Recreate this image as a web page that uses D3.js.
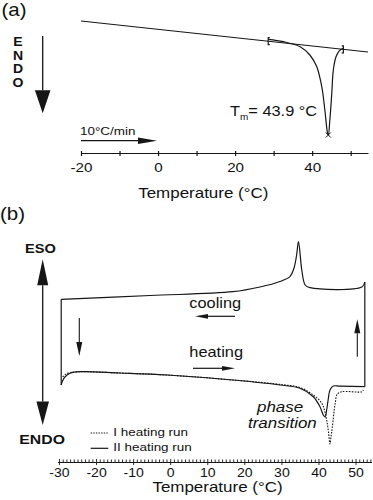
<!DOCTYPE html>
<html>
<head>
<meta charset="utf-8">
<script src="https://cdn.jsdelivr.net/npm/d3@7"></script>
<style>
body { margin: 0; background: #fff; }
text { font-family: "Liberation Sans", Arial, sans-serif; fill: #111; }
</style>
</head>
<body>
<div id="chart"></div>
<script>
// panel (a): one heating run, 10 C/min, heat flow in arbitrary units
var tempBase = [-20, 54.5];
var flowBase = [0, -3.1];
var tempPeak = [28.6, 32.5, 36.9, 39.4, 41.2, 42.5, 43.3, 44.0, 44.2, 44.6, 45.1, 45.5, 46.2, 47.1, 48.1];
var flowPeak = [-1.83, -2.07, -2.57, -3.4, -4.57, -6.57, -8.9, -11.23, -11.4, -9.9, -7.23, -4.9, -3.57, -2.97, -2.73];
var tempLimits = [28.6, 48.1];
var tempTm = 44.2, flowTm = -11.4;
var ticksA = [-20, -10, 0, 10, 20, 30, 40, 50];
var labelsA = [-20, 0, 20, 40];

// panel (b): cooling run, then I and II heating runs
var tempCool = [52.5, 51.7, 37.7, 36.4, 35.5, 34.6, 34.1, 33.4, 32.3, 29.6, 24.2, 16.9, -5.4, -29.4];
var flowCool = [1.8, 1.3, 1.23, 1.5, 3.0, 5.83, 4.5, 3.2, 2.33, 1.85, 1.3, 0.83, 0.45, 0.07];
var tempHeat2 = [-29.4, -29.05, -28.4, -27.0, -24.3, -13.5, -0.9, 16.9, 29.6, 35.0, 38.6, 40.4, 41.3, 41.8, 42.2, 42.6, 43.1, 44.0, 45.8, 52.5];
var flowHeat2 = [-8.5, -8.1, -7.7, -7.33, -7.17, -7.3, -7.5, -8.0, -8.5, -8.83, -9.67, -10.67, -11.5, -11.7, -11.0, -10.0, -9.0, -8.6, -8.62, -8.67];
var tempHeat1 = [-29.0, -28.1, -27.0, -24.3, -13.5, -0.9, 16.9, 30.4, 35.0, 38.6, 40.9, 41.6, 42.2, 42.7, 43.1, 43.4, 43.7, 44.5, 45.1, 46.3, 51.7, 52.1];
var flowHeat1 = [-7.7, -7.4, -7.25, -7.17, -7.3, -7.5, -8.0, -8.47, -8.75, -9.5, -10.33, -11.0, -12.0, -13.2, -14.4, -13.6, -12.8, -10.33, -9.4, -9.17, -9.17, -9.0];
var ticksB = d3.range(-30, 55, 1);
var labelsB = d3.range(-30, 51, 10);

var SX = 1.17; // the picture is a bit wider than tall, so text is stretched too
var ink = "#161616";

var svg = d3.select("#chart").append("svg")
  .attr("width", 373)
  .attr("height", 500);

function label(x, y, s, size, opt) {
  opt = opt || {};
  var t = svg.append("text")
    .attr("transform", "translate(" + x + "," + y + ") scale(" + SX + ",1)")
    .attr("font-size", size)
    .attr("text-anchor", opt.anchor || "start")
    .text(s);
  if (opt.bold) t.attr("font-weight", "bold");
  if (opt.italic) t.attr("font-style", "italic");
  return t;
}

// line with a filled head at (x2, y2)
function arrow(x1, y1, x2, y2, len, half, w) {
  var dx = x2 - x1, dy = y2 - y1;
  var d = Math.sqrt(dx * dx + dy * dy);
  var ux = dx / d, uy = dy / d;
  var bx = x2 - ux * len, by = y2 - uy * len;
  svg.append("line")
    .attr("x1", x1).attr("y1", y1)
    .attr("x2", bx).attr("y2", by)
    .attr("stroke", ink).attr("stroke-width", w || 1.2);
  svg.append("path")
    .attr("d", "M" + x2 + "," + y2 + "L" + (bx - uy * half) + "," + (by + ux * half) +
      "L" + (bx + uy * half) + "," + (by - ux * half) + "Z")
    .attr("fill", ink);
}

function zip(a, b) { return a.map(function(v, i) { return [v, b[i]]; }); }

// ---------- panel (a) ----------
var xA = d3.scaleLinear().domain([-20, 54.5]).range([81, 368]);
var yA = d3.scaleLinear().domain([0, -12]).range([21, 141]);
var lineA = d3.line()
  .x(function(d) { return xA(d[0]); })
  .y(function(d) { return yA(d[1]); });

svg.append("path")
  .datum(zip(tempBase, flowBase))
  .attr("d", lineA)
  .attr("fill", "none").attr("stroke", ink).attr("stroke-width", 1.2);

svg.append("path")
  .datum(zip(tempPeak, flowPeak))
  .attr("d", lineA.curve(d3.curveCatmullRom.alpha(0.5)))
  .attr("fill", "none").attr("stroke", ink).attr("stroke-width", 1.2);

var baseAt = d3.scaleLinear().domain(tempBase).range(flowBase);
tempLimits.forEach(function(t, i) {
  var x = xA(t), y = yA(baseAt(t)), s = i === 0 ? 1.6 : -1.6;
  svg.append("path")
    .attr("d", "M" + (x + s) + "," + (y - 3.5) + "H" + x + "V" + (y + 3.5) + "H" + (x + s))
    .attr("fill", "none").attr("stroke", ink).attr("stroke-width", 1.2);
});

var cx = xA(tempTm), cy = yA(flowTm);
svg.append("path")
  .attr("d", "M" + (cx - 2.5) + "," + (cy - 2.5) + "L" + (cx + 2.5) + "," + (cy + 2.5) +
    "M" + (cx + 2.5) + "," + (cy - 2.5) + "L" + (cx - 2.5) + "," + (cy + 2.5))
  .attr("stroke", ink).attr("stroke-width", 1);

var axA = svg.append("g")
  .attr("transform", "translate(0,153)")
  .call(d3.axisBottom(xA).tickValues(ticksA).tickSize(3).tickSizeOuter(0)
    .tickFormat(function(d) { return labelsA.indexOf(d) >= 0 ? String(d) : ""; }));
axA.select(".domain").attr("stroke", ink).attr("stroke-width", 1.2);
axA.selectAll(".tick line").attr("y1", -2).attr("stroke", ink).attr("stroke-width", 1.2);
axA.selectAll(".tick text")
  .attr("y", 18.7).attr("dy", 0)
  .attr("font-size", 13)
  .attr("font-family", "Liberation Sans, Arial, sans-serif")
  .attr("fill", "#111")
  .attr("transform", "scale(" + SX + ",1)");

label(1.5, 15.5, "(a)", 17.5);
["E", "N", "D", "O"].forEach(function(c, i) {
  label(18, 46 + i * 13.6, c, 12, { bold: true, anchor: "middle" });
});
arrow(42.7, 36, 42.7, 113.3, 23, 7.8, 1.3);
label(80, 135, "10°C/min", 11.5);
arrow(81, 140.7, 157, 140.7, 19, 3.3, 1.2);

var tm = label(230, 115.5, "T", 14);
tm.append("tspan").attr("font-size", 8.5).attr("dy", 4.5).text("m");
tm.append("tspan").attr("dy", -4.5).text("= 43.9 °C");

label(203.3, 197.5, "Temperature (°C)", 14.5, { anchor: "middle" });

// ---------- panel (b) ----------
var xB = d3.scaleLinear().domain([-30.4, 54.3]).range([57.5, 371.5]);
var yB = d3.scaleLinear().domain([0, -10]).range([300, 400]);
var lineB = d3.line()
  .x(function(d) { return xB(d[0]); })
  .y(function(d) { return yB(d[1]); })
  .curve(d3.curveCatmullRom.alpha(0.5));
var straight = d3.line()
  .x(function(d) { return xB(d[0]); })
  .y(function(d) { return yB(d[1]); });

var cool = zip(tempCool, flowCool);
var heat2 = zip(tempHeat2, flowHeat2);
var heat1 = zip(tempHeat1, flowHeat1);

// isothermal steps joining the runs at both ends
[[heat2[heat2.length - 1], cool[0]], [cool[cool.length - 1], heat2[0]]].forEach(function(seg) {
  svg.append("path")
    .attr("d", straight(seg))
    .attr("fill", "none").attr("stroke", ink).attr("stroke-width", 1.2);
});

svg.append("path")
  .datum(cool)
  .attr("d", lineB)
  .attr("fill", "none").attr("stroke", ink).attr("stroke-width", 1.2);

svg.append("path")
  .datum(heat1)
  .attr("d", lineB)
  .attr("fill", "none").attr("stroke", ink).attr("stroke-width", 1.1)
  .attr("stroke-dasharray", "1.6,1.3");

svg.append("path")
  .datum(heat2)
  .attr("d", lineB)
  .attr("fill", "none").attr("stroke", ink).attr("stroke-width", 1.2);

var axB = svg.append("g")
  .attr("transform", "translate(0,462)")
  .call(d3.axisBottom(xB).tickValues(ticksB).tickSize(0).tickSizeOuter(0)
    .tickFormat(function(d) { return labelsB.indexOf(d) >= 0 ? String(d) : ""; }));
axB.select(".domain").attr("stroke", ink).attr("stroke-width", 1.2);
axB.selectAll(".tick line")
  .attr("y1", function(d) { return d % 10 === 0 ? -3 : -2.5; })
  .attr("y2", function(d) { return d % 10 === 0 ? 3 : 0; })
  .attr("stroke", ink).attr("stroke-width", 0.9);
axB.selectAll(".tick text")
  .attr("y", 15.3).attr("dy", 0)
  .attr("font-size", 12)
  .attr("font-family", "Liberation Sans, Arial, sans-serif")
  .attr("fill", "#111")
  .attr("transform", "scale(" + SX + ",1)");

label(0, 220.3, "(b)", 17.5);
label(25, 253.3, "ESO", 12.5, { bold: true });
label(19.3, 444, "ENDO", 13.5, { bold: true });
arrow(42.7, 330, 42.7, 259.3, 26, 5.5, 1.3);
arrow(42.7, 330, 42.7, 425, 23.5, 6.3, 1.3);

label(189.3, 308.3, "cooling", 14);
arrow(235, 316.3, 195, 316.3, 13, 2.4, 1.2);
label(189.3, 356.7, "heating", 14);
arrow(193, 368.3, 235, 368.3, 13, 2.4, 1.2);

arrow(79.3, 318, 79.3, 356, 14, 3, 1.1);
arrow(357.3, 356.7, 357.3, 319.3, 14, 3, 1.1);

label(257, 411.7, "phase", 14.5, { italic: true });
label(248, 428.3, "transition", 14.5, { italic: true });

svg.append("line").attr("x1", 90.7).attr("x2", 108.3).attr("y1", 433).attr("y2", 433)
  .attr("stroke", ink).attr("stroke-width", 1).attr("stroke-dasharray", "1.4,1.2");
label(113.3, 436, "I heating run", 11.5);
svg.append("line").attr("x1", 90.7).attr("x2", 108.3).attr("y1", 448.3).attr("y2", 448.3)
  .attr("stroke", ink).attr("stroke-width", 1.2);
label(113.3, 450.7, "II heating run", 11.5);

label(217.5, 491.7, "Temperature (°C)", 14.5, { anchor: "middle" });
</script>
</body>
</html>
